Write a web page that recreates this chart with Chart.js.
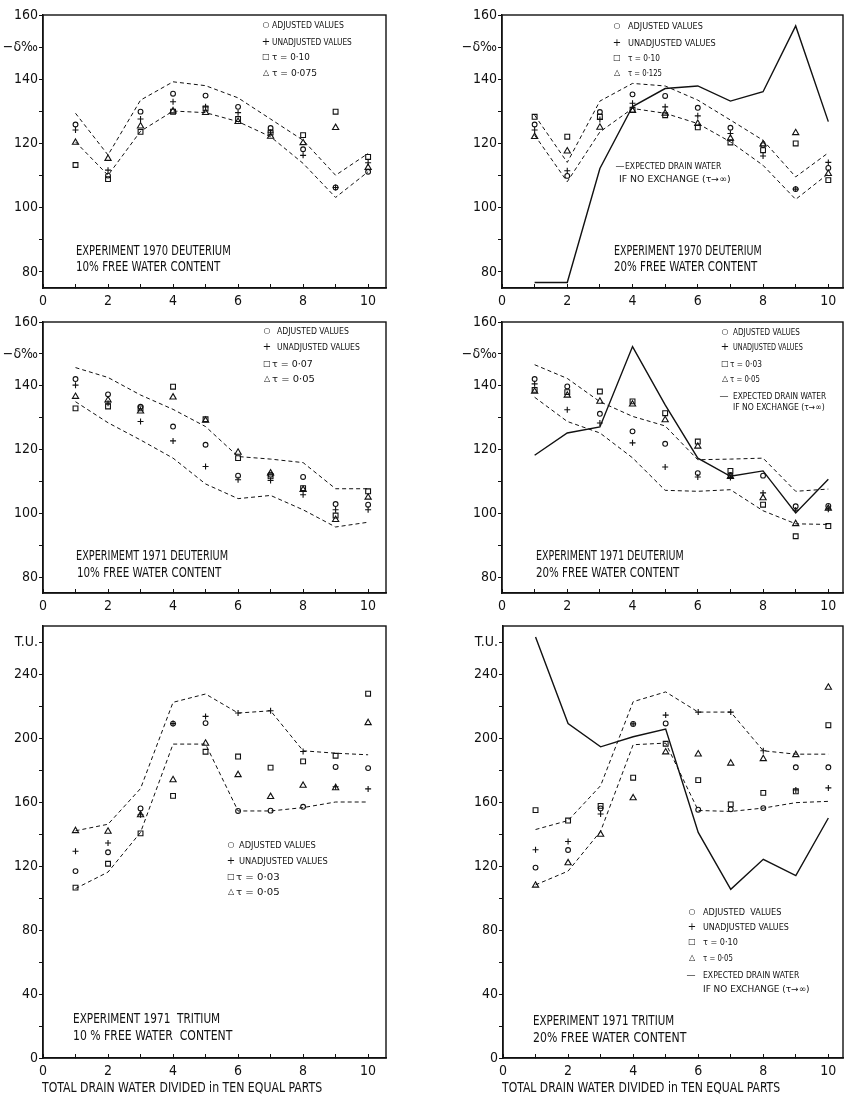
<!DOCTYPE html>
<html>
<head>
<meta charset="utf-8">
<script src="https://cdn.jsdelivr.net/npm/chart.js@4.4.1/dist/chart.umd.min.js"></script>
<style>
  body { margin: 0; width: 844px; height: 1096px; background: #fff; position: relative; overflow: hidden; }
  canvas { position: absolute; }
  .txt { position: absolute; white-space: pre; color: #111; line-height: 1.2; transform-origin: 0 50%;
         font-family: 'Liberation Sans Narrow', 'DejaVu Sans Condensed', 'Roboto Condensed', 'Liberation Sans', sans-serif; }
  .sym { position: absolute; color: #111; line-height: 1; transform: translate(-50%, -50%);
         font-family: 'DejaVu Sans', sans-serif; }
</style>
</head>
<body>
<script>
const INK = "#111";
const FONT = "'Liberation Sans Narrow', 'DejaVu Sans Condensed', 'Roboto Condensed', 'Liberation Sans', sans-serif";

// x: the ten equal parts of drain water
const parts = [1, 2, 3, 4, 5, 6, 7, 8, 9, 10];
const xLabelled = [0, 2, 4, 6, 8, 10];
const deutLabelled = [80, 100, 120, 140, 160];
const tritLabelled = [0, 40, 80, 120, 160, 200, 240];

// Experiment 1970 deuterium, 10 % free water (-delta per mil)
const d70w10Adj = [125.9, 110.0, 129.9, 135.5, 134.9, 131.4, 124.8, 118.2, 106.3, 111.2];
const d70w10Unadj = [124.2, 111.7, 127.6, 133.0, 131.4, 129.6, 123.5, 116.3, 106.3, 114.0];
const d70w10Tau10 = [113.3, 108.9, 123.6, 129.9, 130.9, 127.6, 123.4, 122.6, 129.9, 115.8];
const d70w10Tau075 = [120.3, 115.3, 125.4, 130.1, 129.6, 126.8, 122.2, 120.2, 124.9, 112.5];
const d70w10Upper = [129.4, 116.4, 133.5, 139.2, 138.0, 134.2, 127.6, 121.0, 110.1, 116.9];
const d70w10Lower = [120.5, 110.1, 123.8, 130.1, 129.6, 126.8, 122.1, 113.8, 103.2, 111.2];

// Experiment 1970 deuterium, 20 % free water
const d70w20Adj = [125.9, 109.9, 129.8, 135.3, 134.8, 131.1, 124.9, 119.5, 105.8, 112.4];
const d70w20Unadj = [124.2, 111.5, 127.5, 132.5, 131.4, 128.6, 123.1, 116.1, 105.8, 114.1];
const d70w20Tau10 = [128.3, 122.1, 128.3, 130.5, 128.8, 125.0, 120.3, 117.9, 120.0, 108.6];
const d70w20Tau125 = [122.1, 117.6, 125.0, 130.2, 129.4, 126.2, 121.6, 119.8, 123.3, 110.6];
const d70w20Upper = [128.8, 114.1, 133.2, 138.7, 137.9, 133.5, 127.3, 121.0, 109.6, 117.1];
const d70w20Lower = [122.6, 108.1, 123.6, 130.9, 129.4, 126.2, 120.5, 113.2, 102.6, 110.6];
const d70w20Expected = [76.7, 76.7, 112.2, 131.5, 137.1, 137.9, 133.2, 136.1, 156.6, 126.8];

// Experiment 1971 deuterium, 10 % free water
const d71w10Adj = [142.1, 137.3, 133.4, 127.2, 121.5, 111.8, 112.1, 111.4, 102.9, 102.7];
const d71w10Unadj = [140.2, 134.5, 128.8, 122.7, 114.7, 110.5, 110.3, 105.8, 101.1, 101.1];
const d71w10Tau07 = [132.9, 133.5, 132.9, 139.7, 129.5, 117.3, 111.6, 107.9, 99.3, 106.9];
const d71w10Tau05 = [136.6, 135.5, 132.0, 136.4, 129.1, 119.1, 112.6, 107.4, 98.0, 105.0];
const d71w10Upper = [145.7, 142.6, 137.1, 132.6, 127.2, 117.8, 117.0, 115.9, 107.7, 107.7];
const d71w10Lower = [135.0, 128.4, 123.0, 117.3, 109.2, 104.6, 105.6, 101.1, 95.7, 97.2];

// Experiment 1971 deuterium, 20 % free water
const d71w20Adj = [142.1, 139.8, 131.2, 125.7, 121.8, 112.6, 112.0, 111.8, 102.2, 102.3];
const d71w20Unadj = [140.6, 132.5, 128.3, 122.1, 114.5, 111.4, 111.2, 106.4, 101.0, 101.3];
const d71w20Tau03 = [138.7, 138.0, 138.2, 135.1, 131.4, 122.5, 113.3, 102.7, 92.8, 96.0];
const d71w20Tau05 = [138.2, 137.0, 135.1, 134.2, 129.3, 121.0, 111.5, 104.8, 96.7, 101.5];
const d71w20Upper = [146.6, 142.3, 135.0, 130.4, 127.4, 116.8, 117.0, 117.3, 106.9, 107.6];
const d71w20Lower = [136.4, 128.8, 125.2, 117.4, 107.2, 106.9, 107.4, 100.8, 96.7, 96.5];
const d71w20Expected = [118.2, 125.2, 127.1, 152.3, 134.0, 117.3, 111.6, 113.3, 100.1, 110.7];

// Experiment 1971 tritium, 10 % free water (T.U.)
const t71w10Adj = [116.8, 128.6, 156.0, 209.0, 209.3, 154.4, 154.6, 157.0, 181.9, 181.2];
const t71w10Unadj = [129.2, 134.4, 152.0, 209.0, 213.5, 215.6, 217.0, 191.6, 169.5, 168.2];
const t71w10Tau03 = [106.5, 121.4, 140.4, 163.8, 191.4, 188.4, 181.5, 185.4, 188.9, 227.7];
const t71w10Tau05 = [142.0, 141.6, 151.9, 173.8, 196.6, 177.0, 163.3, 170.3, 168.8, 209.5];
const t71w10Upper = [142.0, 146.1, 168.4, 222.3, 227.5, 215.6, 217.0, 192.0, 190.5, 189.5];
const t71w10Lower = [105.9, 116.2, 141.0, 196.2, 196.2, 154.4, 154.4, 156.5, 160.0, 160.0];

// Experiment 1971 tritium, 20 % free water
const t71w20Adj = [119.0, 130.0, 156.0, 208.8, 209.1, 155.2, 155.4, 156.2, 181.7, 181.7];
const t71w20Unadj = [130.2, 135.3, 152.5, 208.8, 214.3, 216.2, 216.2, 192.0, 167.5, 168.8];
const t71w20Tau10 = [154.9, 148.4, 157.6, 175.2, 196.4, 173.7, 158.5, 165.7, 166.7, 208.0];
const t71w20Tau05 = [107.9, 121.9, 139.7, 162.5, 191.2, 189.9, 184.2, 187.0, 189.5, 231.6];
const t71w20Upper = [142.8, 148.4, 170.2, 222.7, 228.8, 216.2, 216.2, 192.0, 189.9, 189.9];
const t71w20Lower = [108.2, 116.8, 141.7, 195.8, 196.8, 154.7, 154.1, 156.2, 159.6, 160.4];
const t71w20Expected = [263.2, 209.0, 194.5, 200.8, 205.6, 141.0, 105.4, 124.2, 114.0, 150.0];

// Axis setups
const deutAxis = { min: 75, max: 160, step: 10, labelled: deutLabelled, unitAt: 150, unit: "−δ‰" };
const tritAxis = { min: 0, max: 270, step: 20, labelled: tritLabelled, unitAt: 260, unit: "T.U." };

// Point marks for one series
const marks = (values, style, radius) => ({
  data: parts.map((x, i) => ({ x, y: values[i] })),
  showLine: false,
  pointStyle: style,
  pointRadius: radius,
  pointBorderColor: INK,
  pointBackgroundColor: "rgba(0,0,0,0)",
  pointBorderWidth: 1.1,
});

// Dashed or solid trace
const trace = (values, dashed) => ({
  data: parts.map((x, i) => ({ x, y: values[i] })),
  borderColor: INK,
  borderWidth: dashed ? 1 : 1.4,
  borderDash: dashed ? [4, 3] : [],
  pointRadius: 0,
  tension: 0,
  fill: false,
});

const pointSets = (adj, unadj, tauA, tauB) => [
  marks(adj, "circle", 2.4),
  marks(unadj, "cross", 3),
  marks(tauA, "rect", 3.4),
  marks(tauB, "triangle", 3.6),
];

// Box around the plot area
const frame = {
  id: "frame",
  afterDraw(chart) {
    const { ctx, chartArea: a } = chart;
    ctx.save();
    ctx.strokeStyle = INK;
    ctx.lineWidth = 1.4;
    ctx.strokeRect(a.left, a.top, a.right - a.left, a.bottom - a.top);
    ctx.restore();
  },
};

const panels = [
  { left: 0, top: 0, w: 396, h: 306, padRight: 10, axisH: 18, xMax: 10.55, axis: deutAxis,
    datasets: [...pointSets(d70w10Adj, d70w10Unadj, d70w10Tau10, d70w10Tau075), trace(d70w10Upper, true), trace(d70w10Lower, true)] },
  { left: 459, top: 0, w: 392, h: 306, padRight: 8, axisH: 18, xMax: 10.45, axis: deutAxis,
    datasets: [...pointSets(d70w20Adj, d70w20Unadj, d70w20Tau10, d70w20Tau125), trace(d70w20Upper, true), trace(d70w20Lower, true), trace(d70w20Expected, false)] },
  { left: 0, top: 307, w: 396, h: 304, padRight: 10, axisH: 18, xMax: 10.55, axis: deutAxis,
    datasets: [...pointSets(d71w10Adj, d71w10Unadj, d71w10Tau07, d71w10Tau05), trace(d71w10Upper, true), trace(d71w10Lower, true)] },
  { left: 459, top: 307, w: 392, h: 304, padRight: 8, axisH: 18, xMax: 10.45, axis: deutAxis,
    datasets: [...pointSets(d71w20Adj, d71w20Unadj, d71w20Tau03, d71w20Tau05), trace(d71w20Upper, true), trace(d71w20Lower, true), trace(d71w20Expected, false)] },
  { left: 0, top: 611, w: 396, h: 485, padRight: 10, axisH: 38, xMax: 10.55, axis: tritAxis,
    datasets: [...pointSets(t71w10Adj, t71w10Unadj, t71w10Tau03, t71w10Tau05), trace(t71w10Upper, true), trace(t71w10Lower, true)] },
  { left: 460, top: 611, w: 391, h: 485, padRight: 8, axisH: 38, xMax: 10.45, axis: tritAxis,
    datasets: [...pointSets(t71w20Adj, t71w20Unadj, t71w20Tau10, t71w20Tau05), trace(t71w20Upper, true), trace(t71w20Lower, true), trace(t71w20Expected, false)] },
];

const tickFont = { family: FONT, size: 14 };

panels.forEach((p) => {
  const cv = document.createElement("canvas");
  cv.width = p.w;
  cv.height = p.h;
  cv.style.left = p.left + "px";
  cv.style.top = p.top + "px";
  document.body.appendChild(cv);
  const ax = p.axis;
  new Chart(cv, {
    type: "line",
    data: { datasets: p.datasets },
    options: {
      responsive: false,
      animation: false,
      events: [],
      layout: { padding: { top: 15, right: p.padRight, left: 0, bottom: 0 } },
      plugins: { legend: { display: false }, tooltip: { enabled: false } },
      scales: {
        x: {
          type: "linear",
          min: 0,
          max: p.xMax,
          ticks: {
            stepSize: 1, includeBounds: false, autoSkip: false, maxRotation: 0, padding: 9, color: INK, font: tickFont,
            callback: (v) => (xLabelled.includes(v) ? String(v) : ""),
          },
          // negative length turns the small x ticks inward, as in the figure
          grid: { drawOnChartArea: false, tickLength: -4, color: INK },
          border: { color: INK, width: 1.4 },
          afterBuildTicks: (s) => { s.ticks = s.ticks.filter((t) => Number.isInteger(t.value)); },
          afterFit: (s) => { s.height = p.axisH; },
        },
        y: {
          min: ax.min,
          max: ax.max,
          ticks: {
            stepSize: ax.step, includeBounds: false, autoSkip: false, padding: 1, color: INK, font: tickFont,
            callback: (v) => (v === ax.unitAt ? ax.unit : ax.labelled.includes(v) ? String(v) : ""),
          },
          grid: { drawOnChartArea: false, tickLength: 4, color: INK },
          border: { color: INK, width: 1.4 },
          afterBuildTicks: (s) => { s.ticks = s.ticks.filter((t) => t.value % ax.step === 0); },
          afterFit: (s) => { s.width = 43; },
        },
      },
    },
    plugins: [frame],
  });
});

// Text placed by centre line, squeezed to the width seen in the figure
function addText(x, yc, text, size, width) {
  const el = document.createElement("div");
  el.className = "txt";
  el.textContent = text;
  el.style.left = x + "px";
  el.style.fontSize = size + "px";
  el.style.top = (yc - size * 0.6) + "px";
  document.body.appendChild(el);
  if (width) el.style.transform = "scaleX(" + (width / el.offsetWidth) + ")";
}

const glyphs = { o: "○", "+": "+", sq: "□", tri: "△", line: "—" };
function addSym(x, yc, kind) {
  const el = document.createElement("div");
  el.className = "sym";
  el.textContent = glyphs[kind];
  el.style.left = x + "px";
  el.style.top = yc + "px";
  el.style.fontSize = kind === "+" ? "10px" : kind === "line" ? "9px" : "8px";
  document.body.appendChild(el);
}

// Panel captions
const captions = [
  [76, 250, "EXPERIMENT 1970 DEUTERIUM", 155], [76, 266, "10% FREE WATER CONTENT", 144],
  [614, 250, "EXPERIMENT 1970 DEUTERIUM", 148], [614, 266, "20% FREE WATER CONTENT", 143],
  [76, 555, "EXPERIMEMT 1971 DEUTERIUM", 152], [77, 572, "10% FREE WATER CONTENT", 144],
  [536, 555, "EXPERIMENT 1971 DEUTERIUM", 148], [536, 572, "20% FREE WATER CONTENT", 143],
  [73, 1018, "EXPERIMENT 1971  TRITIUM", 147], [73, 1035, "10 % FREE WATER  CONTENT", 159],
  [533, 1020, "EXPERIMENT 1971 TRITIUM", 141], [533, 1037, "20% FREE WATER CONTENT", 153],
  [42, 1087, "TOTAL DRAIN WATER DIVIDED in TEN EQUAL PARTS", 280],
  [502, 1087, "TOTAL DRAIN WATER DIVIDED in TEN EQUAL PARTS", 278],
];
captions.forEach(([x, y, t, w]) => addText(x, y, t, 14, w));

// Keys: [symbol x, y, symbol, text x, text, width]
const keys = [
  [266, 25, "o", 272, "ADJUSTED VALUES", 72], [266, 42, "+", 272, "UNADJUSTED VALUES", 80],
  [266, 57, "sq", 272, "τ = 0·10", 38], [266, 73, "tri", 272, "τ = 0·075", 45],

  [617, 26, "o", 628, "ADJUSTED VALUES", 75], [617, 43, "+", 628, "UNADJUSTED VALUES", 88],
  [617, 58, "sq", 628, "τ = 0·10", 32], [617, 73, "tri", 628, "τ = 0·125", 34],
  [620, 166, "line", 625, "EXPECTED DRAIN WATER", 96], [null, 179, null, 619, "IF NO EXCHANGE (τ→∞)", 112],

  [267, 331, "o", 277, "ADJUSTED VALUES", 72], [267, 347, "+", 277, "UNADJUSTED VALUES", 83],
  [267, 364, "sq", 272, "τ = 0·07", 41], [267, 379, "tri", 272, "τ = 0·05", 43],

  [725, 332, "o", 733, "ADJUSTED VALUES", 67], [725, 347, "+", 733, "UNADJUSTED VALUES", 70],
  [725, 364, "sq", 730, "τ = 0·03", 32], [725, 379, "tri", 730, "τ = 0·05", 30],
  [724, 396, "line", 733, "EXPECTED DRAIN WATER", 93], [null, 407, null, 733, "IF NO EXCHANGE (τ→∞)", 92],

  [231, 845, "o", 239, "ADJUSTED VALUES", 77], [231, 861, "+", 239, "UNADJUSTED VALUES", 89],
  [231, 877, "sq", 236, "τ = 0·03", 44], [231, 892, "tri", 236, "τ = 0·05", 44],

  [692, 912, "o", 703, "ADJUSTED  VALUES", 78], [692, 927, "+", 703, "UNADJUSTED VALUES", 86],
  [692, 942, "sq", 703, "τ = 0·10", 35], [692, 958, "tri", 703, "τ = 0·05", 30],
  [691, 975, "line", 703, "EXPECTED DRAIN WATER", 96], [null, 989, null, 703, "IF NO EXCHANGE (τ→∞)", 107],
];
keys.forEach(([sx, y, s, tx, t, w]) => {
  if (s) addSym(sx, y, s);
  addText(tx, y, t, 9, w);
});
</script>
</body>
</html>
